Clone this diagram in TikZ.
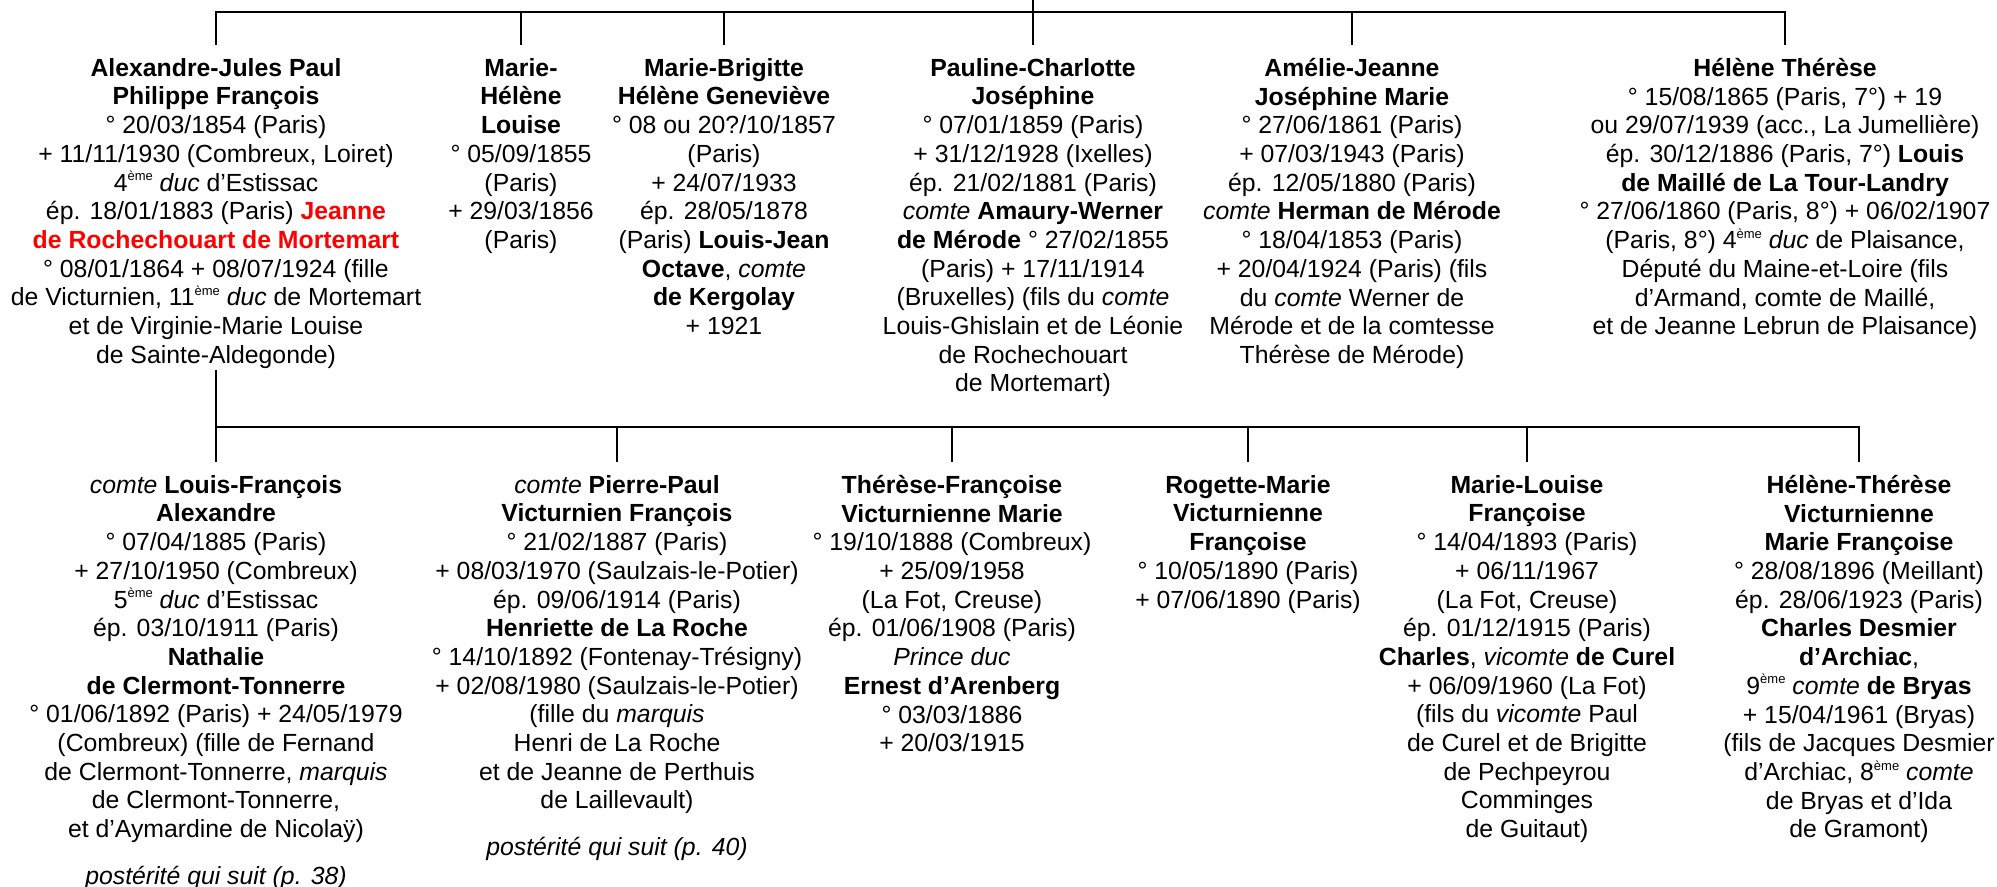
\documentclass[tikz,border=0pt]{standalone}
\usepackage{fontspec}
\setmainfont{Liberation Sans}
\newcommand{\eme}{\raisebox{0.8ex}{\fontsize{6.5pt}{6.5pt}\selectfont ème}}

\begin{document}
\begin{tikzpicture}[x=0.5pt,y=-0.5pt,line width=1.3pt,
    person node/.style={align=center,anchor=north,inner sep=0pt,
      font=\fontsize{12.4pt}{14.35pt}\selectfont}]

  \useasboundingbox (0,0) rectangle (1997,887);

  \node[person node] (t1) at (216,57) {\textbf{Alexandre-Jules Paul}\\
    \textbf{Philippe François}\\
    ° 20/03/1854 (Paris)\\
    + 11/11/1930 (Combreux, Loiret)\\
    4\eme{} \textit{duc} d’Estissac\\
    ép. 18/01/1883 (Paris) \textcolor{red}{\textbf{Jeanne}}\\
    \textcolor{red}{\textbf{de Rochechouart de Mortemart}}\\
    ° 08/01/1864 + 08/07/1924 (fille\\
    de Victurnien, 11\eme{} \textit{duc} de Mortemart\\
    et de Virginie-Marie Louise\\
    de Sainte-Aldegonde)};
  \node[person node] (t2) at (521,57) {\textbf{Marie-}\\
    \textbf{Hélène}\\
    \textbf{Louise}\\
    ° 05/09/1855\\
    (Paris)\\
    + 29/03/1856\\
    (Paris)};
  \node[person node] (t3) at (724,57) {\textbf{Marie-Brigitte}\\
    \textbf{Hélène Geneviève}\\
    ° 08 ou 20?/10/1857\\
    (Paris)\\
    + 24/07/1933\\
    ép. 28/05/1878\\
    (Paris) \textbf{Louis-Jean}\\
    \textbf{Octave}, \textit{comte}\\
    \textbf{de Kergolay}\\
    + 1921};
  \node[person node] (t4) at (1033,57) {\textbf{Pauline-Charlotte}\\
    \textbf{Joséphine}\\
    ° 07/01/1859 (Paris)\\
    + 31/12/1928 (Ixelles)\\
    ép. 21/02/1881 (Paris)\\
    \textit{comte} \textbf{Amaury-Werner}\\
    \textbf{de Mérode} ° 27/02/1855\\
    (Paris) + 17/11/1914\\
    (Bruxelles) (fils du \textit{comte}\\
    Louis-Ghislain et de Léonie\\
    de Rochechouart\\
    de Mortemart)};
  \node[person node] (t5) at (1352,57) {\textbf{Amélie-Jeanne}\\
    \textbf{Joséphine Marie}\\
    ° 27/06/1861 (Paris)\\
    + 07/03/1943 (Paris)\\
    ép. 12/05/1880 (Paris)\\
    \textit{comte} \textbf{Herman de Mérode}\\
    ° 18/04/1853 (Paris)\\
    + 20/04/1924 (Paris) (fils\\
    du \textit{comte} Werner de\\
    Mérode et de la comtesse\\
    Thérèse de Mérode)};
  \node[person node] (t6) at (1785,57) {\textbf{Hélène Thérèse}\\
    ° 15/08/1865 (Paris, 7°) + 19\\
    ou 29/07/1939 (acc., La Jumellière)\\
    ép. 30/12/1886 (Paris, 7°) \textbf{Louis}\\
    \textbf{de Maillé de La Tour-Landry}\\
    ° 27/06/1860 (Paris, 8°) + 06/02/1907\\
    (Paris, 8°) 4\eme{} \textit{duc} de Plaisance,\\
    Député du Maine-et-Loire (fils\\
    d’Armand, comte de Maillé,\\
    et de Jeanne Lebrun de Plaisance)};

  \node[person node] (b1) at (216,474) {\textit{comte} \textbf{Louis-François}\\
    \textbf{Alexandre}\\
    ° 07/04/1885 (Paris)\\
    + 27/10/1950 (Combreux)\\
    5\eme{} \textit{duc} d’Estissac\\
    ép. 03/10/1911 (Paris)\\
    \textbf{Nathalie}\\
    \textbf{de Clermont-Tonnerre}\\
    ° 01/06/1892 (Paris) + 24/05/1979\\
    (Combreux) (fille de Fernand\\
    de Clermont-Tonnerre, \textit{marquis}\\
    de Clermont-Tonnerre,\\
    et d’Aymardine de Nicolaÿ)\\[9pt]
    \textit{postérité qui suit (p. 38)}};
  \node[person node] (b2) at (617,474) {\textit{comte} \textbf{Pierre-Paul}\\
    \textbf{Victurnien François}\\
    ° 21/02/1887 (Paris)\\
    + 08/03/1970 (Saulzais-le-Potier)\\
    ép. 09/06/1914 (Paris)\\
    \textbf{Henriette de La Roche}\\
    ° 14/10/1892 (Fontenay-Trésigny)\\
    + 02/08/1980 (Saulzais-le-Potier)\\
    (fille du \textit{marquis}\\
    Henri de La Roche\\
    et de Jeanne de Perthuis\\
    de Laillevault)\\[9pt]
    \textit{postérité qui suit (p. 40)}};
  \node[person node] (b3) at (952,474) {\textbf{Thérèse-Françoise}\\
    \textbf{Victurnienne Marie}\\
    ° 19/10/1888 (Combreux)\\
    + 25/09/1958\\
    (La Fot, Creuse)\\
    ép. 01/06/1908 (Paris)\\
    \textit{Prince duc}\\
    \textbf{Ernest d’Arenberg}\\
    ° 03/03/1886\\
    + 20/03/1915};
  \node[person node] (b4) at (1248,474) {\textbf{Rogette-Marie}\\
    \textbf{Victurnienne}\\
    \textbf{Françoise}\\
    ° 10/05/1890 (Paris)\\
    + 07/06/1890 (Paris)};
  \node[person node] (b5) at (1527,474) {\textbf{Marie-Louise}\\
    \textbf{Françoise}\\
    ° 14/04/1893 (Paris)\\
    + 06/11/1967\\
    (La Fot, Creuse)\\
    ép. 01/12/1915 (Paris)\\
    \textbf{Charles}, \textit{vicomte} \textbf{de Curel}\\
    + 06/09/1960 (La Fot)\\
    (fils du \textit{vicomte} Paul\\
    de Curel et de Brigitte\\
    de Pechpeyrou\\
    Comminges\\
    de Guitaut)};
  \node[person node] (b6) at (1859,474) {\textbf{Hélène-Thérèse}\\
    \textbf{Victurnienne}\\
    \textbf{Marie Françoise}\\
    ° 28/08/1896 (Meillant)\\
    ép. 28/06/1923 (Paris)\\
    \textbf{Charles Desmier}\\
    \textbf{d’Archiac},\\
    9\eme{} \textit{comte} \textbf{de Bryas}\\
    + 15/04/1961 (Bryas)\\
    (fils de Jacques Desmier\\
    d’Archiac, 8\eme{} \textit{comte}\\
    de Bryas et d’Ida\\
    de Gramont)};

  \coordinate (parent) at (t4.north |- 0,0);
  \coordinate (topbar) at (t4.north |- 0,12);
  \coordinate (botbar) at (t1.south |- 0,427);

  \draw (parent) -- (topbar);
  \draw ([yshift=6pt]t1.north) -- (t1.north |- topbar) -| ([yshift=6pt]t6.north);
  \foreach \n in {t2,t3,t4,t5}
    \draw ([yshift=6pt]\n.north) -- (\n.north |- topbar);
  \draw (t1.south) -- ([yshift=6pt]b1.north);
  \draw (botbar) -| ([yshift=6pt]b6.north);
  \foreach \n in {b2,b3,b4,b5}
    \draw ([yshift=6pt]\n.north) -- (\n.north |- botbar);

\end{tikzpicture}
\end{document}
